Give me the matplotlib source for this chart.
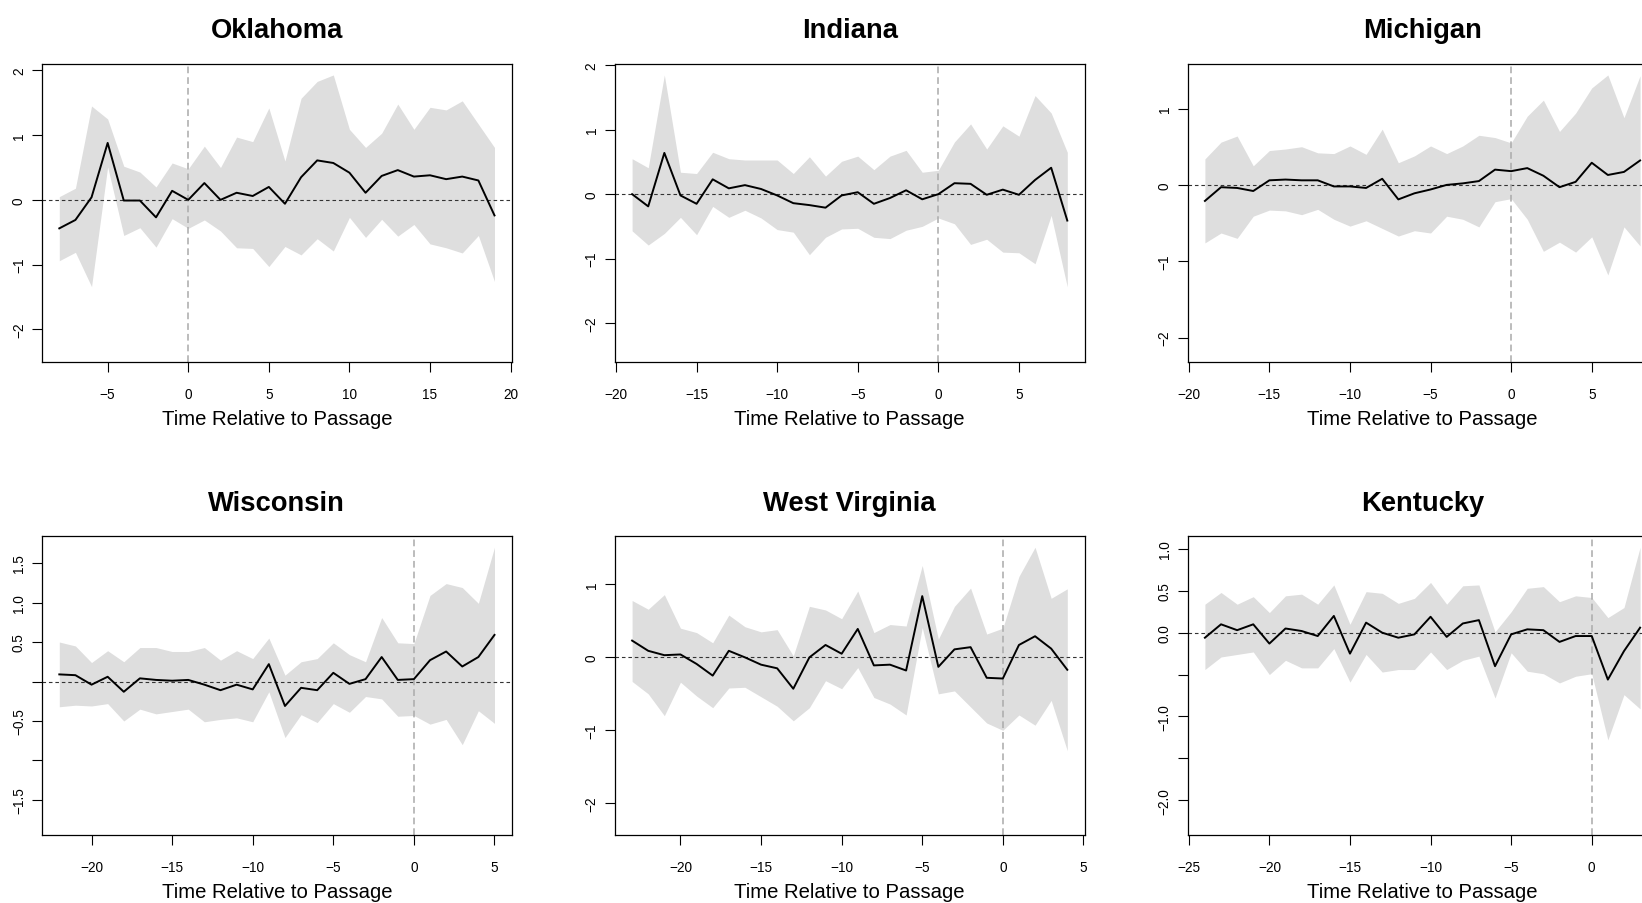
import matplotlib
matplotlib.use("Agg")
import matplotlib.pyplot as plt
import numpy as np

plt.rcParams["font.family"] = ["Liberation Sans", "DejaVu Sans"]

# ---- data: event-time estimates with confidence bands ----
oklahoma_t = list(range(-8, 20))
oklahoma_est = [-0.44, -0.31, 0.04, 0.88, -0.01, -0.01, -0.27, 0.14, 0.00, 0.26,
                0.00, 0.11, 0.06, 0.20, -0.06, 0.35, 0.61, 0.57, 0.42, 0.11,
                0.37, 0.46, 0.36, 0.38, 0.32, 0.36, 0.30, -0.24]
oklahoma_hi = [0.05, 0.18, 1.45, 1.25, 0.52, 0.43, 0.20, 0.57, 0.48, 0.83,
               0.50, 0.97, 0.90, 1.42, 0.60, 1.57, 1.83, 1.93, 1.09, 0.81,
               1.03, 1.48, 1.09, 1.43, 1.39, 1.53, 1.17, 0.81]
oklahoma_lo = [-0.94, -0.81, -1.34, 0.51, -0.55, -0.43, -0.73, -0.29, -0.44, -0.31,
               -0.48, -0.74, -0.75, -1.03, -0.72, -0.85, -0.60, -0.79, -0.27, -0.58,
               -0.30, -0.56, -0.38, -0.68, -0.74, -0.82, -0.55, -1.26]

indiana_t = list(range(-19, 9))
indiana_est = [0.00, -0.19, 0.64, -0.02, -0.15, 0.23, 0.09, 0.14, 0.08, -0.02,
               -0.14, -0.17, -0.21, -0.02, 0.03, -0.15, -0.06, 0.06, -0.08, 0.00,
               0.17, 0.16, -0.01, 0.07, -0.01, 0.22, 0.41, -0.41]
indiana_hi = [0.55, 0.41, 1.85, 0.34, 0.32, 0.65, 0.55, 0.53, 0.53, 0.53,
              0.32, 0.58, 0.28, 0.51, 0.59, 0.38, 0.59, 0.68, 0.34, 0.37,
              0.81, 1.09, 0.70, 1.06, 0.90, 1.53, 1.26, 0.65]
indiana_lo = [-0.57, -0.79, -0.61, -0.36, -0.63, -0.19, -0.36, -0.25, -0.37, -0.55,
              -0.59, -0.94, -0.67, -0.54, -0.53, -0.67, -0.69, -0.56, -0.50, -0.37,
              -0.46, -0.78, -0.70, -0.90, -0.91, -1.08, -0.33, -1.44]

michigan_t = list(range(-19, 9))
michigan_est = [-0.21, -0.03, -0.04, -0.08, 0.06, 0.07, 0.06, 0.06, -0.02, -0.02,
                -0.04, 0.08, -0.19, -0.11, -0.06, 0.00, 0.02, 0.05, 0.20, 0.18,
                0.22, 0.12, -0.03, 0.04, 0.29, 0.13, 0.17, 0.32]
michigan_hi = [0.34, 0.56, 0.64, 0.25, 0.45, 0.47, 0.50, 0.42, 0.41, 0.51,
               0.40, 0.73, 0.29, 0.38, 0.51, 0.41, 0.51, 0.65, 0.62, 0.55,
               0.90, 1.11, 0.70, 0.94, 1.27, 1.44, 0.88, 1.43]
michigan_lo = [-0.76, -0.63, -0.70, -0.41, -0.33, -0.34, -0.39, -0.32, -0.45, -0.54,
               -0.47, -0.57, -0.67, -0.60, -0.63, -0.41, -0.45, -0.55, -0.22, -0.18,
               -0.45, -0.87, -0.75, -0.88, -0.68, -1.18, -0.55, -0.80]

wisconsin_t = list(range(-22, 6))
wisconsin_est = [0.09, 0.08, -0.04, 0.06, -0.13, 0.04, 0.02, 0.01, 0.02, -0.04,
                 -0.11, -0.04, -0.10, 0.22, -0.31, -0.08, -0.11, 0.11, -0.03, 0.03,
                 0.31, 0.02, 0.03, 0.27, 0.38, 0.19, 0.31, 0.59]
wisconsin_hi = [0.50, 0.45, 0.24, 0.39, 0.25, 0.43, 0.43, 0.38, 0.38, 0.43,
                0.27, 0.39, 0.29, 0.55, 0.08, 0.25, 0.29, 0.49, 0.34, 0.25,
                0.81, 0.49, 0.48, 1.09, 1.24, 1.19, 0.99, 1.70]
wisconsin_lo = [-0.32, -0.30, -0.31, -0.28, -0.50, -0.35, -0.41, -0.38, -0.35, -0.51,
                -0.48, -0.46, -0.51, -0.13, -0.71, -0.42, -0.52, -0.28, -0.39, -0.19,
                -0.22, -0.44, -0.43, -0.54, -0.48, -0.80, -0.37, -0.53]

west_virginia_t = list(range(-23, 5))
west_virginia_est = [0.23, 0.09, 0.03, 0.04, -0.09, -0.25, 0.09, 0.00, -0.10, -0.15,
                     -0.43, 0.00, 0.17, 0.05, 0.39, -0.11, -0.10, -0.18, 0.84, -0.13,
                     0.11, 0.14, -0.28, -0.29, 0.17, 0.29, 0.12, -0.17]
west_virginia_hi = [0.78, 0.66, 0.86, 0.40, 0.34, 0.20, 0.58, 0.42, 0.35, 0.38,
                    0.02, 0.70, 0.65, 0.53, 0.91, 0.34, 0.45, 0.43, 1.26, 0.25,
                    0.70, 0.95, 0.32, 0.40, 1.11, 1.51, 0.81, 0.94]
west_virginia_lo = [-0.33, -0.50, -0.80, -0.34, -0.53, -0.69, -0.42, -0.41, -0.54, -0.67,
                    -0.87, -0.69, -0.32, -0.43, -0.14, -0.55, -0.64, -0.79, 0.41, -0.50,
                    -0.46, -0.68, -0.90, -1.00, -0.79, -0.93, -0.59, -1.28]

kentucky_t = list(range(-24, 4))
kentucky_est = [-0.06, 0.10, 0.03, 0.10, -0.13, 0.05, 0.02, -0.04, 0.20, -0.25,
                0.12, 0.00, -0.06, -0.02, 0.19, -0.05, 0.11, 0.15, -0.40, -0.02,
                0.04, 0.03, -0.11, -0.04, -0.04, -0.56, -0.22, 0.06]
kentucky_hi = [0.34, 0.48, 0.34, 0.43, 0.24, 0.44, 0.46, 0.34, 0.57, 0.10,
               0.49, 0.47, 0.35, 0.41, 0.60, 0.34, 0.56, 0.57, 0.01, 0.25,
               0.53, 0.55, 0.37, 0.44, 0.42, 0.18, 0.30, 1.02]
kentucky_lo = [-0.44, -0.29, -0.26, -0.23, -0.50, -0.33, -0.42, -0.42, -0.19, -0.59,
               -0.26, -0.47, -0.44, -0.44, -0.23, -0.44, -0.33, -0.28, -0.78, -0.24,
               -0.46, -0.49, -0.60, -0.52, -0.49, -1.28, -0.74, -0.91]

# y-axis tick values and their printed labels ('' = tick without label)
ticks_int = [-2, -1, 0, 1, 2]
labels_int = ["\u22122", "\u22121", "0", "1", "2"]
ticks_wi = [-1.5, -1.0, -0.5, 0.0, 0.5, 1.0, 1.5]
labels_wi = ["\u22121.5", "", "\u22120.5", "", "0.5", "1.0", "1.5"]
ticks_ky = [-2.0, -1.5, -1.0, -0.5, 0.0, 0.5, 1.0]
labels_ky = ["\u22122.0", "", "\u22121.0", "", "0.0", "0.5", "1.0"]

panels = [
    ("Oklahoma", oklahoma_t, oklahoma_est, oklahoma_lo, oklahoma_hi, ticks_int, labels_int),
    ("Indiana", indiana_t, indiana_est, indiana_lo, indiana_hi, ticks_int, labels_int),
    ("Michigan", michigan_t, michigan_est, michigan_lo, michigan_hi, ticks_int, labels_int),
    ("Wisconsin", wisconsin_t, wisconsin_est, wisconsin_lo, wisconsin_hi, ticks_wi, labels_wi),
    ("West Virginia", west_virginia_t, west_virginia_est, west_virginia_lo,
     west_virginia_hi, ticks_int, labels_int),
    ("Kentucky", kentucky_t, kentucky_est, kentucky_lo, kentucky_hi, ticks_ky, labels_ky),
]

W, H = 1642, 904
fig = plt.figure(figsize=(W / 100, H / 100), dpi=100)

# panel boxes in pixels: (left, top), shared width/height
col_left = [41.9, 614.7, 1187.5]
row_top = [64.9, 537.2]
box_w, box_h = 470.0, 298.5


def r_range(lo, hi):
    pad = 0.04 * (hi - lo)
    return lo - pad, hi + pad


for i, (name, t, est, lo, hi, yt, yl) in enumerate(panels):
    r, c = divmod(i, 3)
    left = col_left[c] / W
    bottom = 1 - (row_top[r] + box_h) / H
    ax = fig.add_axes([left, bottom, box_w / W, box_h / H])

    t = np.asarray(t)
    ax.fill_between(t, lo, hi, color="#DEDEDE", lw=0, zorder=1)
    ax.axhline(0, color="#333333", lw=0.8, ls=(0, (3.2, 2.6)), zorder=2)
    ax.axvline(0, color="#AAAAAA", lw=1.1, ls=(0, (4.4, 2.6)), zorder=2)
    ax.plot(t, est, color="black", lw=1.4, zorder=3)

    xlim = r_range(t.min(), t.max())
    ylim = r_range(min(lo) - 1, max(hi))

    xt = [v for v in range(-25, 25, 5) if xlim[0] <= v <= xlim[1]]
    ax.set_xticks(xt)
    ax.set_xticklabels([str(v).replace("-", "\u2212") for v in xt])
    keep = [k for k, v in enumerate(yt) if ylim[0] <= v <= ylim[1]]
    ax.set_yticks([yt[k] for k in keep])
    ax.set_yticklabels([yl[k] for k in keep])
    ax.set_xlim(*xlim)
    ax.set_ylim(*ylim)

    ax.tick_params(axis="both", direction="out", length=7, width=0.8,
                   labelsize=9.8, top=False, right=False)
    ax.tick_params(axis="y", pad=4.5)
    ax.tick_params(axis="x", pad=11)
    for lab in ax.get_yticklabels():
        lab.set_rotation(90)
        lab.set_va("center")
        lab.set_ha("right")
    for sp in ax.spines.values():
        sp.set_linewidth(0.9)

    ax.set_title(name, fontsize=19.7, fontweight="bold", y=1 + 33.5 / box_h,
                 va="center", pad=0)
    ax.set_xlabel("Time Relative to Passage", fontsize=14.6)
    ax.xaxis.set_label_coords(0.5, -56.5 / box_h)
    ax.xaxis.label.set_va("center")

fig.savefig("out.png", dpi=100)
